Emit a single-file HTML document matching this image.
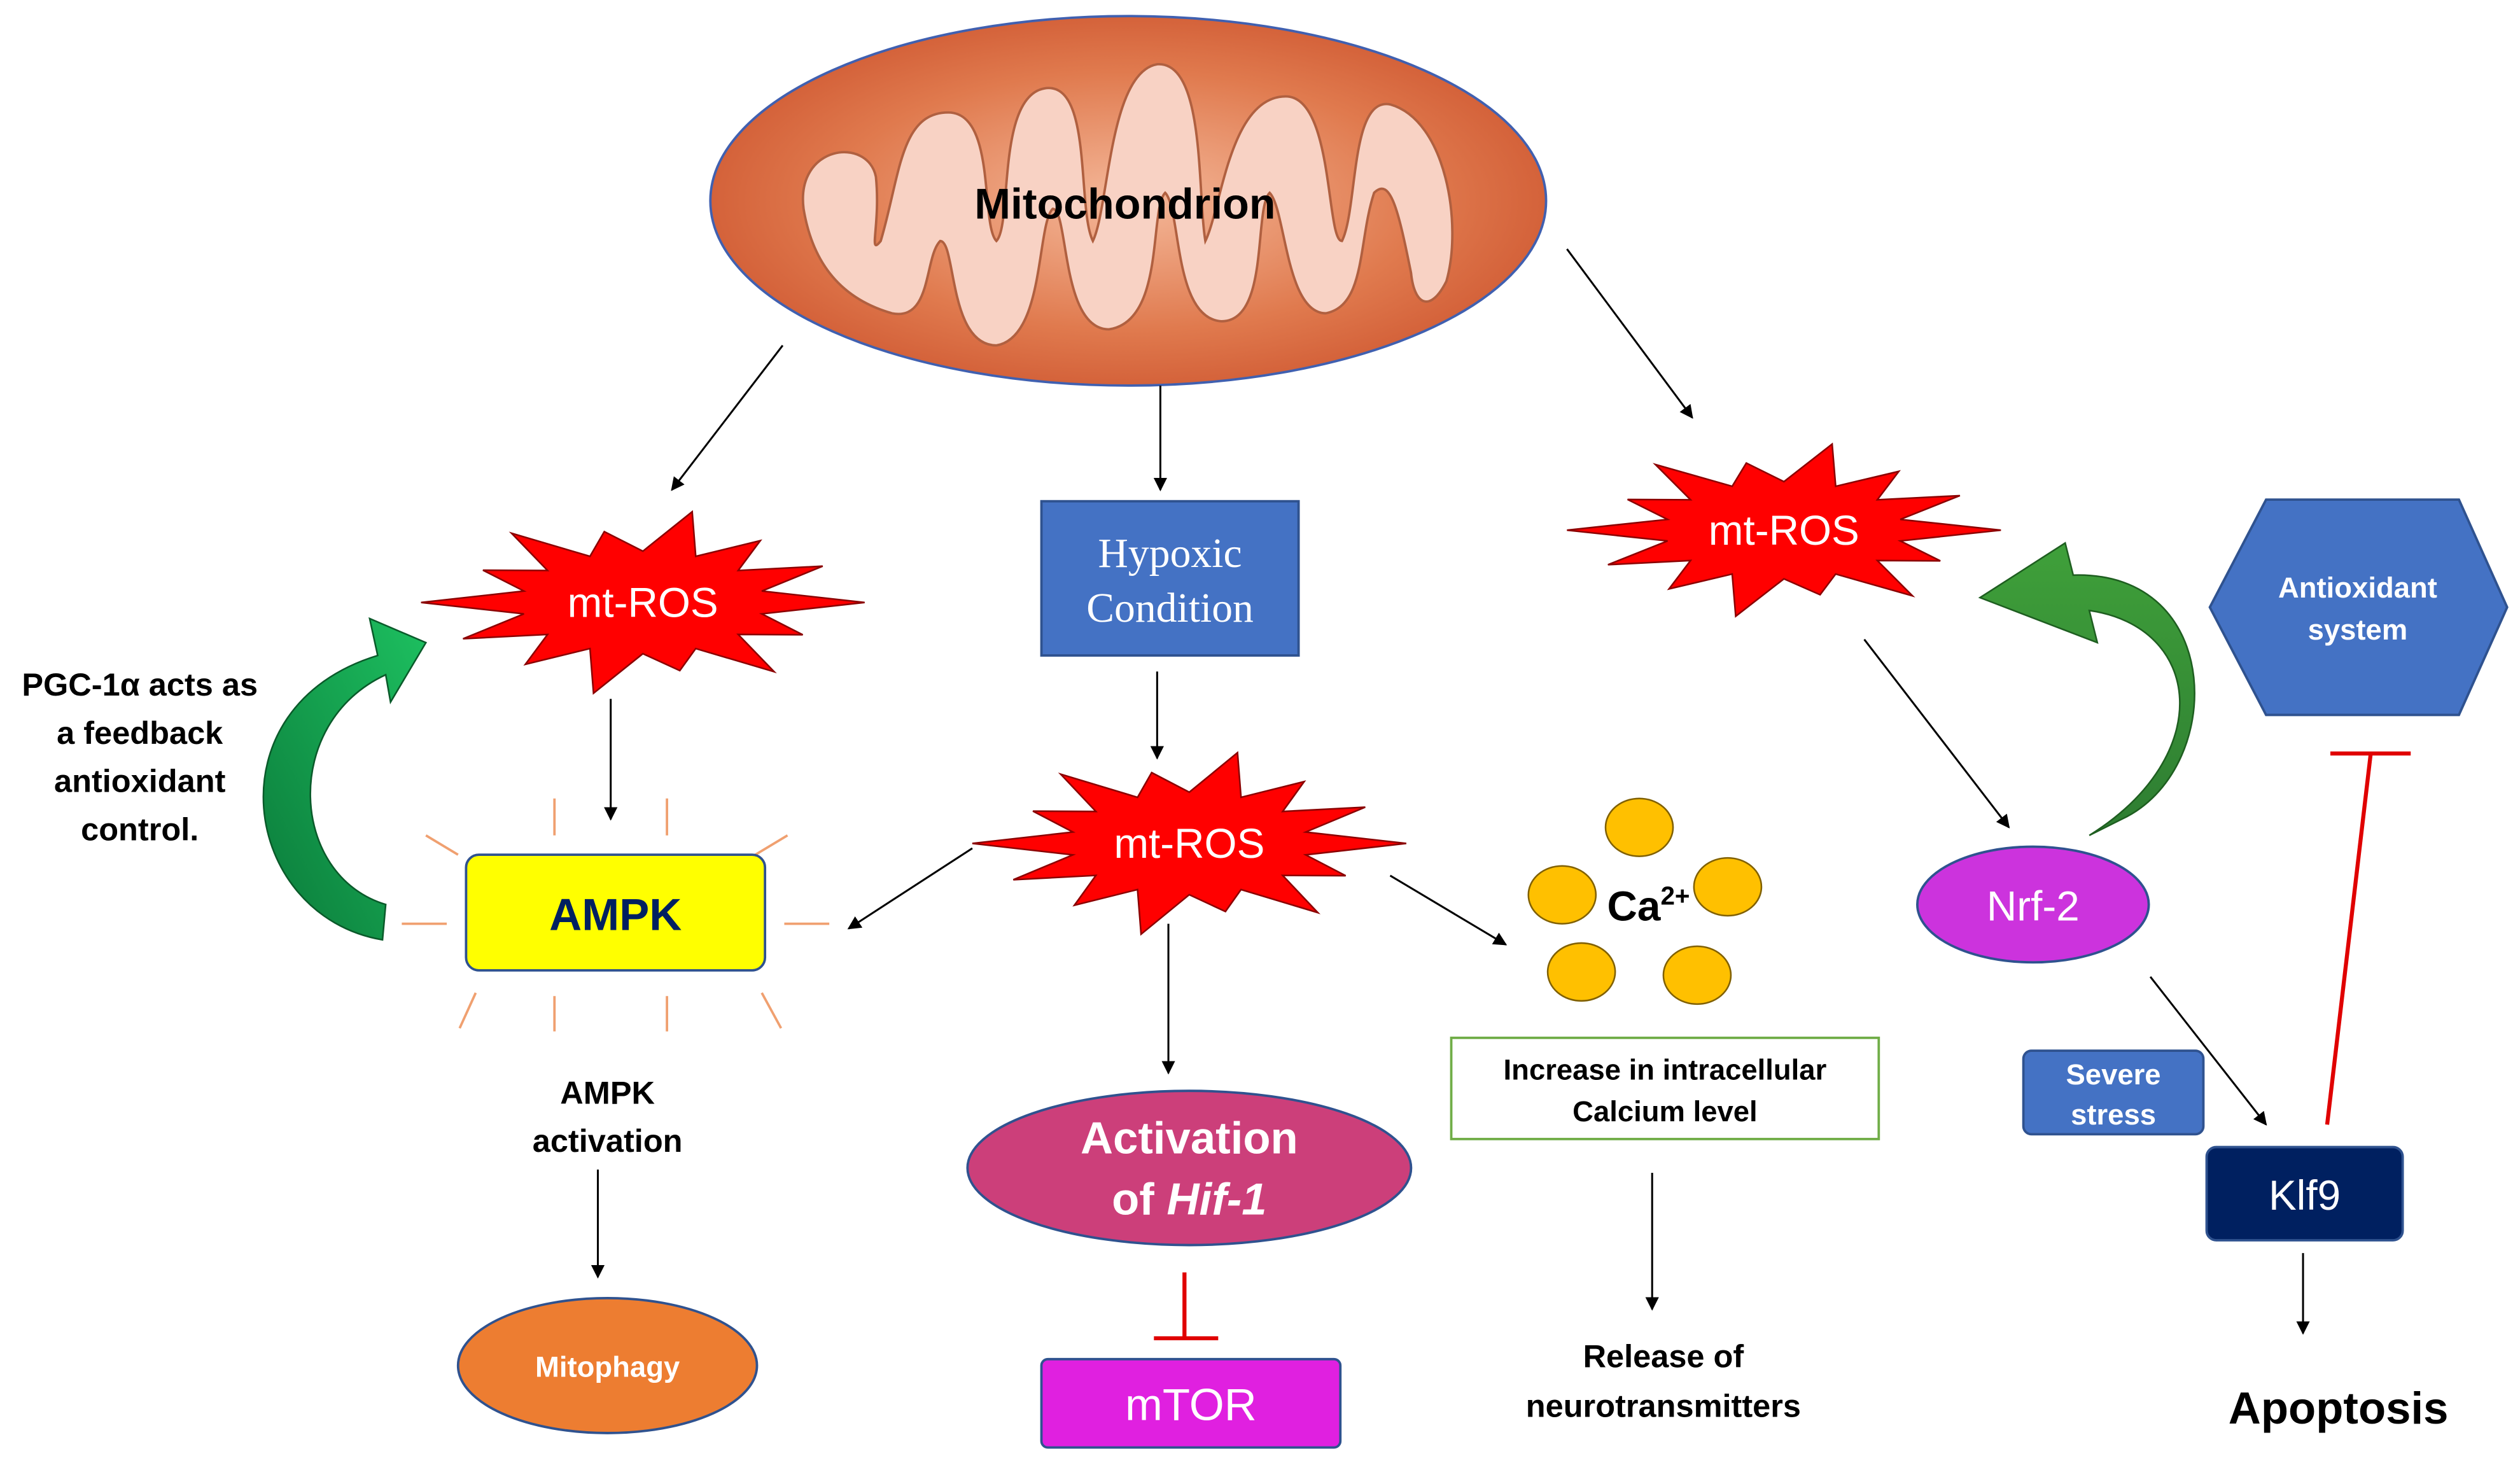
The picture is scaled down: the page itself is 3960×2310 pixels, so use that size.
<!DOCTYPE html>
<html><head><meta charset="utf-8"><style>
html,body{margin:0;padding:0;background:#fff;}
svg{display:block;}
text{font-family:"Liberation Sans","DejaVu Sans",sans-serif;}
</style></head><body>
<svg id="s" width="3960" height="2310" viewBox="0 0 1568 915" preserveAspectRatio="none" xmlns="http://www.w3.org/2000/svg">
<defs>
<radialGradient id="mg" cx="50%" cy="50%" r="50%">
<stop offset="0%" stop-color="#F4B89A"/><stop offset="70%" stop-color="#E07A4E"/><stop offset="100%" stop-color="#D4623A"/>
</radialGradient>
<marker id="ar" viewBox="0 0 10 10" refX="9" refY="5" markerWidth="7" markerHeight="7" orient="auto"><path d="M0,0 L10,5 L0,10 z" fill="#000"/></marker>
<linearGradient id="gl" x1="0" y1="1" x2="1" y2="0"><stop offset="0" stop-color="#0B7A3A"/><stop offset="1" stop-color="#1DC060"/></linearGradient>
<linearGradient id="gr" x1="0" y1="1" x2="0" y2="0"><stop offset="0" stop-color="#2E7D32"/><stop offset="1" stop-color="#3FA03A"/></linearGradient>
</defs>
<ellipse cx="702" cy="125" rx="260" ry="115" fill="url(#mg)" stroke="#4060B0" stroke-width="1.5"/>
<path d="M500,130 C495,90 540,85 545,110 C548,140 540,160 548,150 C560,110 560,70 590,70 C620,70 610,140 620,150 C630,140 620,60 650,55 C680,50 670,130 680,150 C690,130 690,45 720,40 C750,38 745,120 750,150 C760,130 765,60 800,60 C830,60 825,150 835,150 C845,130 840,60 865,65 C900,75 910,140 900,175 C890,195 880,190 878,170 C870,130 865,110 855,120 C845,150 850,190 825,195 C800,195 800,130 790,120 C780,130 790,200 760,200 C730,198 735,130 725,120 C715,130 725,200 690,205 C660,205 665,130 655,130 C645,140 650,210 620,215 C590,215 595,150 585,150 C575,160 580,200 555,195 C520,185 505,160 500,130 Z" fill="#F8D2C4" stroke="#B06040" stroke-width="1.5"/>
<text x="700" y="136" font-size="27" font-weight="bold" text-anchor="middle">Mitochondrion</text>
<g stroke="#000" stroke-width="1.2" marker-end="url(#ar)">
<line x1="487" y1="215" x2="418" y2="305"/>
<line x1="722" y1="240" x2="722" y2="305"/>
<line x1="975" y1="155" x2="1053" y2="260"/>
<line x1="380" y1="435" x2="380" y2="510"/>
<line x1="372" y1="728" x2="372" y2="795"/>
<line x1="720" y1="418" x2="720" y2="472"/>
<line x1="605" y1="528" x2="528" y2="578"/>
<line x1="727" y1="575" x2="727" y2="668"/>
<line x1="865" y1="545" x2="937" y2="588"/>
<line x1="1028" y1="730" x2="1028" y2="815"/>
<line x1="1160" y1="398" x2="1250" y2="515"/>
<line x1="1338" y1="608" x2="1410" y2="700"/>
<line x1="1433" y1="780" x2="1433" y2="830"/>
</g>
<g id="stars"></g>
<rect x="648" y="312" width="160" height="96" fill="#4472C4" stroke="#2F528F" stroke-width="1.5"/>
<text x="728" y="353" font-size="26" fill="#fff" text-anchor="middle" font-family="Liberation Serif,serif" style="font-family:'Liberation Serif',serif">Hypoxic</text>
<text x="728" y="387" font-size="26" fill="#fff" text-anchor="middle" style="font-family:'Liberation Serif',serif">Condition</text>
<polygon points="1375,378 1410,311 1530,311 1560,378 1530,445 1410,445" fill="#4472C4" stroke="#2F528F" stroke-width="1.5"/>
<text x="1467" y="372" font-size="18" font-weight="bold" fill="#fff" text-anchor="middle">Antioxidant</text>
<text x="1467" y="398" font-size="18" font-weight="bold" fill="#fff" text-anchor="middle">system</text>
<g stroke="#F0A070" stroke-width="1.5">
<line x1="250" y1="575" x2="278" y2="575"/><line x1="488" y1="575" x2="516" y2="575"/>
<line x1="265" y1="520" x2="285" y2="532"/><line x1="490" y1="520" x2="470" y2="532"/>
<line x1="345" y1="497" x2="345" y2="520"/><line x1="415" y1="497" x2="415" y2="520"/>
<line x1="286" y1="640" x2="296" y2="618"/><line x1="486" y1="640" x2="474" y2="618"/>
<line x1="345" y1="620" x2="345" y2="642"/><line x1="415" y1="620" x2="415" y2="642"/>
</g>
<rect x="290" y="532" width="186" height="72" rx="8" fill="#FFFF00" stroke="#2F528F" stroke-width="1.5"/>
<text x="383" y="579" font-size="28" font-weight="bold" fill="#002060" text-anchor="middle">AMPK</text>
<path d="M238,585 C150,570 130,440 235,408 L230,385 L265,400 L243,437 L240,420 C175,450 180,545 240,563 Z" fill="url(#gl)" stroke="#0A5A2A" stroke-width="1"/>
<g font-size="20" font-weight="bold" text-anchor="middle">
<text x="87" y="433">PGC-1α acts as</text><text x="87" y="463">a feedback</text><text x="87" y="493">antioxidant</text><text x="87" y="523">control.</text>
<text x="378" y="687">AMPK</text><text x="378" y="717">activation</text>
<text x="1035" y="851">Release of</text><text x="1035" y="882">neurotransmitters</text>
</g>
<ellipse cx="378" cy="850" rx="93" ry="42" fill="#ED7D31" stroke="#2F528F" stroke-width="1.5"/>
<text x="378" y="857" font-size="18" font-weight="bold" fill="#fff" text-anchor="middle">Mitophagy</text>
<ellipse cx="740" cy="727" rx="138" ry="48" fill="#CC3F7A" stroke="#2F528F" stroke-width="1.5"/>
<text x="740" y="718" font-size="28" font-weight="bold" fill="#fff" text-anchor="middle">Activation</text>
<text x="740" y="756" font-size="28" font-weight="bold" fill="#fff" text-anchor="middle">of <tspan font-style="italic">Hif-1</tspan></text>
<g stroke="#E00000" stroke-width="2.5"><line x1="737" y1="792" x2="737" y2="833"/><line x1="718" y1="833" x2="758" y2="833"/>
<line x1="1448" y1="700" x2="1475" y2="470"/><line x1="1450" y1="469" x2="1500" y2="469"/></g>
<rect x="648" y="846" width="186" height="55" rx="4" fill="#E020E0" stroke="#2F528F" stroke-width="1.5"/>
<text x="741" y="884" font-size="28" fill="#fff" text-anchor="middle">mTOR</text>
<g fill="#FFC000" stroke="#806000" stroke-width="1">
<ellipse cx="1020" cy="515" rx="21" ry="18"/><ellipse cx="972" cy="557" rx="21" ry="18"/><ellipse cx="1075" cy="552" rx="21" ry="18"/><ellipse cx="984" cy="605" rx="21" ry="18"/><ellipse cx="1056" cy="607" rx="21" ry="18"/>
</g>
<text x="1000" y="573" font-size="26" font-weight="bold">Ca<tspan font-size="16" dy="-10">2+</tspan></text>
<rect x="903" y="646" width="266" height="63" fill="#fff" stroke="#70AD47" stroke-width="1.5"/>
<text x="1036" y="672" font-size="18" font-weight="bold" text-anchor="middle">Increase in intracellular</text>
<text x="1036" y="698" font-size="18" font-weight="bold" text-anchor="middle">Calcium level</text>
<ellipse cx="1265" cy="563" rx="72" ry="36" fill="#CC33DD" stroke="#2F528F" stroke-width="1.5"/>
<text x="1265" y="573" font-size="26" fill="#fff" text-anchor="middle">Nrf-2</text>
<path d="M1300,520 C1380,470 1370,390 1300,380 L1305,400 L1232,372 L1285,338 L1290,358 C1385,355 1385,480 1320,510 Z" fill="url(#gr)" stroke="#1E5E20" stroke-width="1"/>
<rect x="1259" y="654" width="112" height="52" rx="5" fill="#4472C4" stroke="#2F528F" stroke-width="1.5"/>
<text x="1315" y="675" font-size="18" font-weight="bold" fill="#fff" text-anchor="middle">Severe</text>
<text x="1315" y="700" font-size="18" font-weight="bold" fill="#fff" text-anchor="middle">stress</text>
<rect x="1373" y="714" width="122" height="58" rx="6" fill="#002060" stroke="#2F528F" stroke-width="1.5"/>
<text x="1434" y="753" font-size="26" fill="#fff" text-anchor="middle">Klf9</text>
<text x="1455" y="886" font-size="28" font-weight="bold" text-anchor="middle">Apoptosis</text>
</svg>
<script>
(function(){
var g=document.getElementById('stars');var ns='http://www.w3.org/2000/svg';
function star(cx,cy,rx,ry){
 var n=14,pts=[],outer=[1,0.8,0.95,0.75,1,0.85,0.9,1,0.8,0.95,0.78,1,0.85,0.9];
 for(var i=0;i<n*2;i++){var a=Math.PI*i/n;var r=(i%2==0)?outer[i/2]:0.55;
  pts.push((cx+Math.cos(a)*rx*r).toFixed(1)+','+(cy+Math.sin(a)*ry*r).toFixed(1));}
 var p=document.createElementNS(ns,'polygon');p.setAttribute('points',pts.join(' '));
 p.setAttribute('fill','#FF0000');p.setAttribute('stroke','#8B0000');p.setAttribute('stroke-width','1');g.appendChild(p);
 var t=document.createElementNS(ns,'text');t.setAttribute('x',cx);t.setAttribute('y',cy+9);t.setAttribute('font-size','26');
 t.setAttribute('fill','#fff');t.setAttribute('text-anchor','middle');t.textContent='mt-ROS';g.appendChild(t);
}
star(400,375,138,58);star(740,525,135,58);star(1110,330,135,55);
})();
</script>
</body></html>
